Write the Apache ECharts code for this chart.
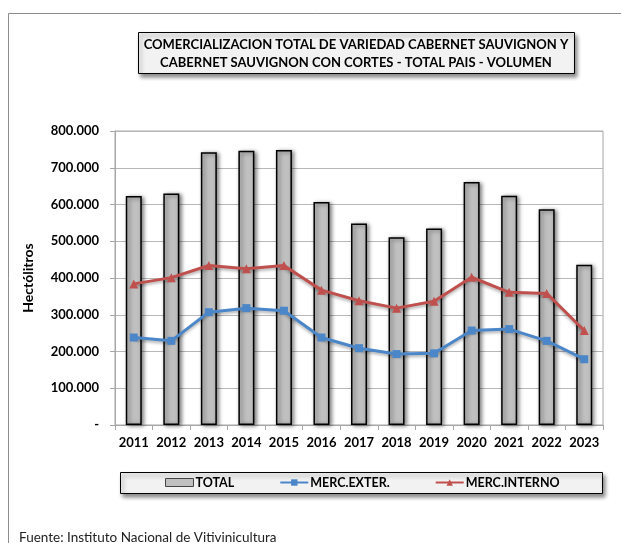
<!DOCTYPE html>
<html>
<head>
<meta charset="utf-8">
<script src="https://cdn.jsdelivr.net/npm/echarts@6/dist/echarts.min.js"></script>
<style>
  html, body { margin: 0; padding: 0; background: #fff; }
  #chart { width: 621px; height: 543px; }
</style>
</head>
<body>
<div id="chart"></div>
<script>
  // datos (hectolitros)
  const years = ['2011', '2012', '2013', '2014', '2015', '2016', '2017', '2018', '2019', '2020', '2021', '2022', '2023'];
  const total = [623000, 630000, 742000, 746000, 748000, 607000, 548000, 511000, 535000, 661000, 624000, 587000, 436000];
  const mercExter = [238000, 229000, 307000, 318000, 311000, 238000, 209000, 193000, 195000, 257000, 261000, 229000, 179000];
  const mercInterno = [384000, 401000, 434000, 425000, 434000, 367000, 338000, 318000, 337000, 402000, 361000, 358000, 257000];

  const titleLines = ['COMERCIALIZACION TOTAL DE VARIEDAD CABERNET SAUVIGNON Y', 'CABERNET SAUVIGNON CON CORTES - TOTAL PAIS - VOLUMEN'];
  const fuente = 'Fuente: Instituto Nacional de Vitivinicultura';

  const font = 'Lato, "Open Sans", sans-serif';

  function fmt(v) {
    if (v === 0) return '-';
    return String(v).replace(/\B(?=(\d{3})+(?!\d))/g, '.');
  }

  let myChart = echarts.init(document.getElementById('chart'));
  let option = {
    animation: false,
    textStyle: { fontFamily: font },
    grid: {
      left: 115,
      top: 131,
      width: 488,
      height: 294,
      show: true,
      borderColor: '#a6a6a6',
      borderWidth: 1
    },
    graphic: [
      {
        type: 'rect', z: 0, silent: true,
        shape: { x: 8.5, y: 13.5, width: 700, height: 600 },
        style: { fill: 'none', stroke: '#8c8c8c', lineWidth: 1 }
      },
      {
        type: 'rect', z: 1, silent: true,
        shape: { x: 138.5, y: 32.5, width: 436, height: 41 },
        style: {
          fill: '#f2f2f2', stroke: '#000', lineWidth: 1,
          shadowBlur: 4, shadowOffsetX: 2, shadowOffsetY: 3, shadowColor: 'rgba(0,0,0,0.45)'
        }
      },
      {
        type: 'text', z: 2, silent: true,
        x: 356, y: 54,
        style: {
          text: titleLines.join('\n'),
          align: 'center', verticalAlign: 'middle',
          fontFamily: font, fontWeight: 'bold', fontSize: 13, lineHeight: 18, fill: '#000'
        }
      },
      {
        type: 'rect', z: 1, silent: true,
        shape: { x: 120.5, y: 472.5, width: 482, height: 21 },
        style: {
          fill: '#f2f2f2', stroke: '#000', lineWidth: 1,
          shadowBlur: 4, shadowOffsetX: 2, shadowOffsetY: 3, shadowColor: 'rgba(0,0,0,0.45)'
        }
      },
      {
        type: 'text', z: 2, silent: true,
        x: 19, y: 538,
        style: {
          text: fuente, verticalAlign: 'middle',
          fontFamily: font, fontSize: 13.5, fill: '#222'
        }
      }
    ],
    legend: {
      left: 165,
      top: 476,
      padding: 0,
      z: 10,
      itemGap: 45,
      itemWidth: 28,
      itemHeight: 8,
      textStyle: { fontFamily: font, fontWeight: 'bold', fontSize: 12.5, color: '#000', padding: [0, 0, 0, -3] },
      data: [
        { name: 'TOTAL', icon: 'rect', itemStyle: { color: '#c0c0c0', borderColor: '#444', borderWidth: 1 } },
        { name: 'MERC.EXTER.' },
        { name: 'MERC.INTERNO' }
      ]
    },
    xAxis: {
      type: 'category',
      data: years,
      boundaryGap: true,
      axisLine: { lineStyle: { color: '#a6a6a6' } },
      axisTick: { show: true, length: 5, interval: 0, lineStyle: { color: '#a6a6a6' } },
      axisLabel: { interval: 0, hideOverlap: false, margin: 11, fontFamily: font, fontWeight: 'bold', fontSize: 13, color: '#000' }
    },
    yAxis: {
      type: 'value',
      min: 0,
      max: 800000,
      interval: 100000,
      name: 'Hectólitros',
      nameLocation: 'middle',
      nameRotate: 90,
      nameGap: 80,
      nameTextStyle: { fontFamily: font, fontWeight: 'bold', fontSize: 14, color: '#000' },
      axisLine: { show: true, lineStyle: { color: '#a6a6a6' } },
      axisTick: { show: true, length: 5, lineStyle: { color: '#a6a6a6' } },
      splitLine: { lineStyle: { color: '#b8b8b8' } },
      axisLabel: {
        margin: 16, fontFamily: font, fontWeight: 'bold', fontSize: 13, color: '#000',
        formatter: fmt
      }
    },
    series: [
      {
        name: 'TOTAL',
        type: 'bar',
        data: total,
        barWidth: 16,
        itemStyle: {
          color: '#c0c0c0',
          borderColor: '#000',
          borderWidth: 1.5,
          shadowBlur: 4,
          shadowOffsetX: 2,
          shadowOffsetY: 1,
          shadowColor: 'rgba(0,0,0,0.5)'
        }
      },
      {
        name: 'MERC.EXTER.',
        type: 'line',
        data: mercExter,
        symbol: 'rect',
        symbolSize: 8,
        color: '#4a86c8',
        lineStyle: { width: 3, color: '#4a86c8', shadowBlur: 3, shadowOffsetY: 2, shadowColor: 'rgba(0,0,0,0.3)' },
        itemStyle: { color: '#4a86c8' },
        z: 5
      },
      {
        name: 'MERC.INTERNO',
        type: 'line',
        data: mercInterno,
        symbol: 'triangle',
        symbolSize: 9,
        color: '#c0504d',
        lineStyle: { width: 3, color: '#c0504d', shadowBlur: 3, shadowOffsetY: 2, shadowColor: 'rgba(0,0,0,0.3)' },
        itemStyle: { color: '#c0504d' },
        z: 5
      }
    ]
  };
  myChart.setOption(option);
</script>
</body>
</html>
